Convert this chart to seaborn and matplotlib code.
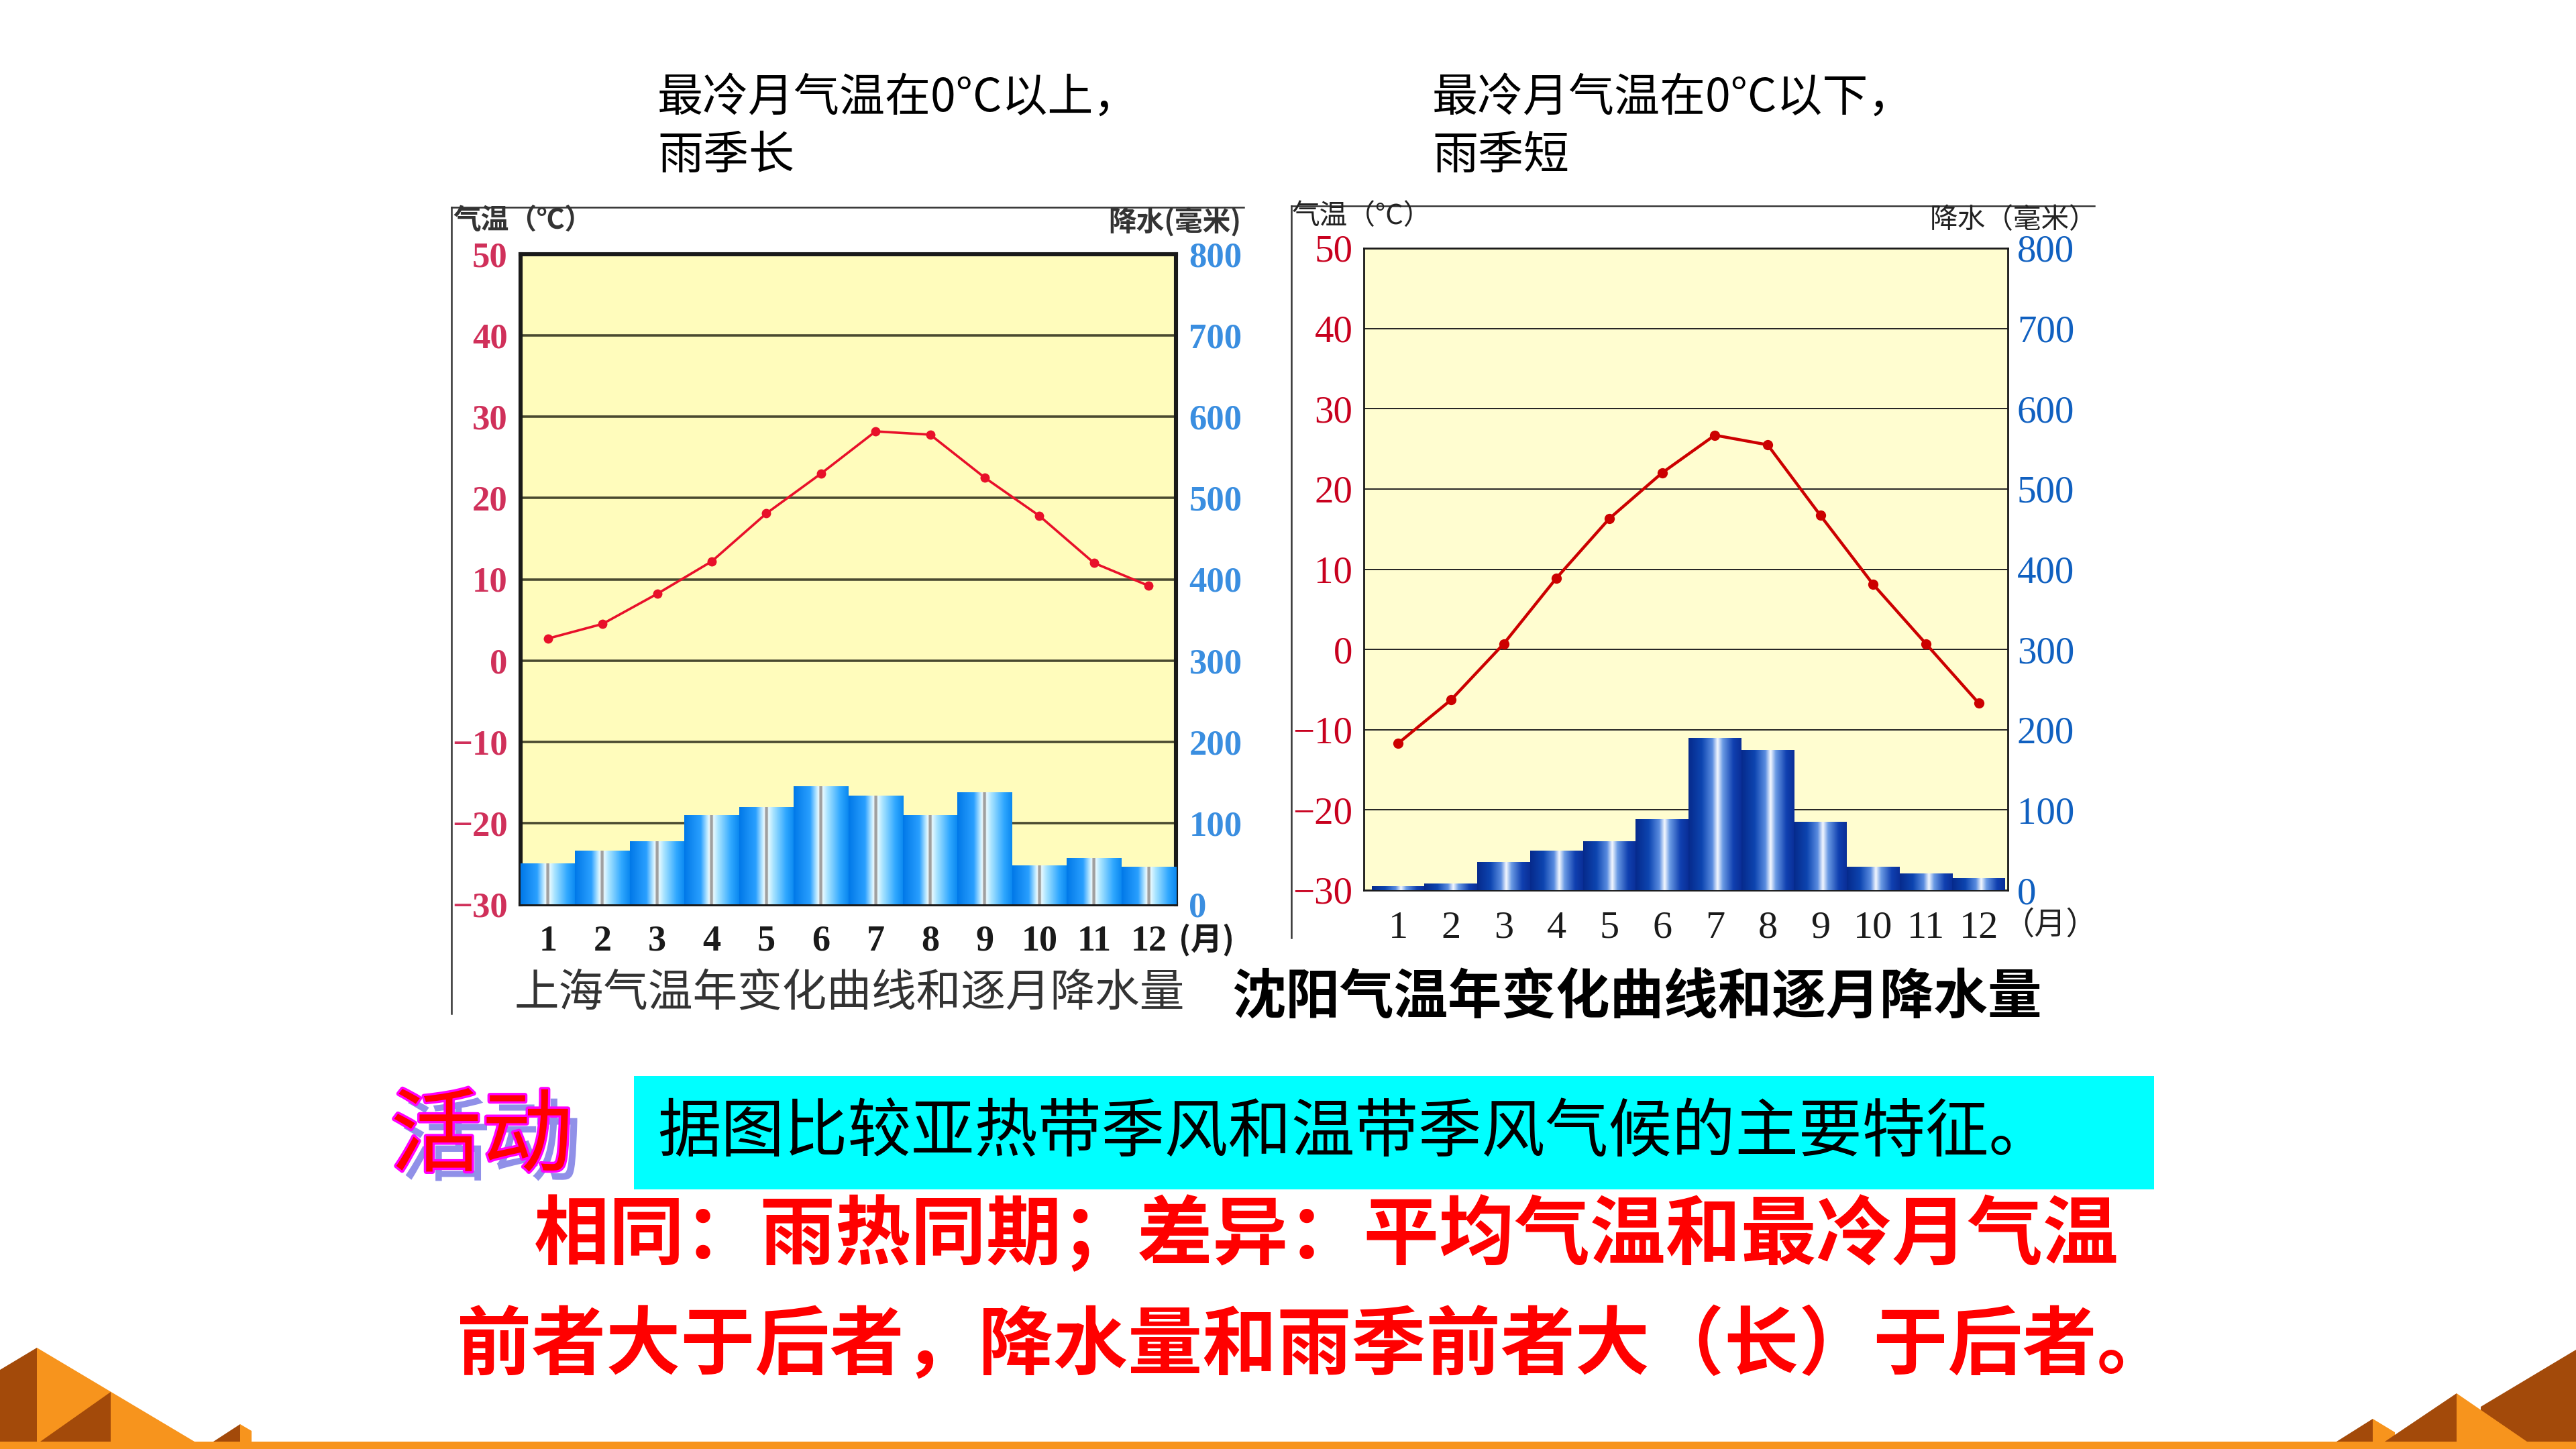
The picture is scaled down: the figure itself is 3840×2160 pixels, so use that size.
import numpy as np
import pandas as pd
import seaborn as sns
import matplotlib
matplotlib.use('Agg')
from matplotlib import pyplot as plt
from matplotlib.colors import LinearSegmentedColormap
from matplotlib.patches import Polygon, Rectangle
import matplotlib.patheffects as pe

# data
months = list(range(1, 13))
month_labels = [str(m) for m in months]
sh_temp = [2.7, 4.5, 8.2, 12.2, 18.1, 23.0, 28.2, 27.8, 22.5, 17.8, 12.0, 9.2]
sh_rain = [50, 66, 78, 110, 120, 145, 134, 110, 138, 48, 57, 46]
sy_temp = [-11.7, -6.3, 0.7, 8.9, 16.3, 22.0, 26.7, 25.5, 16.7, 8.1, 0.7, -6.7]
sy_rain = [5, 8, 35, 49, 61, 89, 190, 175, 85, 29, 21, 15]
temp_ticks = [-30, -20, -10, 0, 10, 20, 30, 40, 50]
temp_labels = ['\u221230', '\u221220', '\u221210', '0', '10', '20', '30', '40', '50']
rain_ticks = [0, 100, 200, 300, 400, 500, 600, 700, 800]
rain_labels = [str(v) for v in rain_ticks]

W, H = 3840, 2160
plt.rcParams['font.family'] = ['Noto Sans CJK SC', 'DejaVu Sans']
fig = plt.figure(figsize=(19.2, 10.8), dpi=200)
fig.patch.set_facecolor('white')

# pixel-space layer for text and decorations
bg = fig.add_axes([0, 0, 1, 1])
bg.set_xlim(0, W)
bg.set_ylim(H, 0)
bg.axis('off')
bg.set_zorder(-1)


def rect(x0, y0, x1, y1):
    return [x0 / W, 1 - y1 / H, (x1 - x0) / W, (y1 - y0) / H]


def draw_chart(box, temps, rains, xlim, face, grad_colors, line_color, lw, ms,
               spine_w, grid_c, grid_w, tcol, rcol, bold, pad_l, pad_r, fs):
    ax = fig.add_axes(rect(*box))
    ax.set_zorder(1)
    df = pd.DataFrame({'month': months, 'temp': temps, 'rain': rains})
    sns.barplot(data=df, x='month', y='rain', ax=ax, native_scale=True, width=1,
                color='#1060d0', saturation=1, linewidth=0, zorder=2)
    cmap = LinearSegmentedColormap.from_list('bar', grad_colors)
    grad = np.linspace(0, 1, 256).reshape(1, -1)
    for p in ax.patches:
        x0, y0 = p.get_xy()
        im = ax.imshow(grad, extent=[x0, x0 + p.get_width(), y0, y0 + p.get_height()],
                       aspect='auto', cmap=cmap, zorder=3, interpolation='bilinear')
        im.set_clip_path(p)
    ax.set_facecolor(face)
    ax.set_xlim(*xlim)
    ax.set_ylim(0, 800)
    ax.set_axisbelow(True)
    ax.yaxis.grid(True, color=grid_c, lw=grid_w)
    ax.xaxis.grid(False)
    ax.set_xlabel('')
    ax.set_ylabel('')
    for s in ax.spines.values():
        s.set_linewidth(spine_w)
        s.set_color('#1a1a1a')
    weight = 'bold' if bold else 'normal'

    ax2 = ax.twinx()
    ax2.set_zorder(2)
    sns.lineplot(data=df, x='month', y='temp', ax=ax2, color=line_color, lw=lw,
                 marker='o', markersize=ms, markeredgewidth=0)
    ax2.set_ylim(-30, 50)
    ax2.set_xlim(*xlim)
    ax2.set_xlabel('')
    ax2.set_ylabel('')
    for s in ax2.spines.values():
        s.set_visible(False)
    ax.yaxis.tick_right()
    ax2.yaxis.tick_left()
    ax.set_yticks(rain_ticks, labels=rain_labels, fontfamily='Liberation Serif',
                  fontweight=weight, color=rcol, fontsize=fs)
    ax2.set_yticks(temp_ticks, labels=temp_labels, fontfamily='Liberation Serif',
                   fontweight=weight, color=tcol, fontsize=fs)
    ax.set_xticks(months, labels=month_labels, fontfamily='Liberation Serif',
                  fontweight=weight, color='#1a1a1a', fontsize=fs + 0.5)
    ax.tick_params(axis='y', length=0, pad=pad_r)
    ax.tick_params(axis='x', length=0, pad=11)
    ax2.tick_params(axis='y', length=0, pad=pad_l)
    return ax, ax2


# Shanghai
draw_chart((776, 379, 1753, 1348), sh_temp, sh_rain, (0.5, 12.5), '#fffcbc',
           [(0, '#0078e8'), (0.3, '#2aa0ff'), (0.42, '#bfeaff'), (0.46, '#f0fbff'),
            (0.475, '#a0a0a0'), (0.515, '#a0a0a0'), (0.53, '#e8faff'),
            (0.62, '#a8e4ff'), (0.85, '#30a8ff'), (1, '#0a88f0')],
           '#e8102a', 1.3, 5, 2.2, '#4a4a30', 1.3, '#d0305a', '#3a8ee0', True, 7, 7, 19)

# Shenyang
draw_chart((2033, 370, 2993, 1327), sy_temp, sy_rain, (0.35, 12.55), '#fffdd0',
           [(0, '#062a8c'), (0.25, '#0d45b0'), (0.45, '#5a8ce0'), (0.55, '#f4f8ff'),
            (0.65, '#6a9ae4'), (0.85, '#1040b0'), (1, '#0a2f98')],
           '#cc0000', 1.6, 5.5, 1.0, '#222222', 0.7, '#c8001e', '#1060c0', False, 6, 5, 20.5)

# chart frames
bg.plot([673, 673], [309, 1511], color='#333333', lw=0.9)
bg.plot([673, 1854], [309, 309], color='#333333', lw=0.9)
bg.plot([1925, 1925], [307, 1398], color='#333333', lw=0.9)
bg.plot([1925, 3122], [307, 307], color='#333333', lw=0.9)

# axis titles
bg.text(676, 330, '气温（℃）', fontsize=15, fontweight='bold', color='#333333', va='center')
bg.text(1850, 330, '降水(毫米)', fontsize=15, fontweight='bold', color='#333333', va='center', ha='right')
bg.text(1757, 1401, '(月)', fontsize=17, fontweight='bold', color='#1a1a1a', va='center')
bg.text(1926, 323, '气温（°C）', fontsize=15, color='#222222', va='center')
bg.text(3126, 328, '降水（毫米）', fontsize=15, color='#222222', va='center', ha='right')
bg.text(2985, 1379, '（月）', fontsize=17, color='#222222', va='center')

# captions
bg.text(1266, 1482, '上海气温年变化曲线和逐月降水量', fontsize=24, color='#333333', ha='center', va='center')
bg.text(2440, 1487, '沈阳气温年变化曲线和逐月降水量', fontsize=29, fontweight='bold', color='black',
        ha='center', va='center')

# notes above charts
bg.text(980, 147, '最冷月气温在0°C以上，', fontsize=24.5, color='black', va='center')
bg.text(980, 233, '雨季长', fontsize=24.5, color='black', va='center')
bg.text(2135, 147, '最冷月气温在0°C以下，', fontsize=24.5, color='black', va='center')
bg.text(2135, 233, '雨季短', fontsize=24.5, color='black', va='center')

# activity box
bg.add_patch(Rectangle((945, 1604), 2266, 169, facecolor='#00ffff', edgecolor='none'))
bg.text(980, 1690, '据图比较亚热带季风和温带季风气候的主要特征。', fontsize=34, color='black', va='center')
bg.text(718, 1697, '活动', fontsize=49, color='#ff0000', ha='center', va='center',
        path_effects=[pe.SimplePatchShadow(offset=(5, -5), shadow_rgbFace='#9090e8', alpha=1),
                      pe.Stroke(linewidth=2.5, foreground='#ff00ff'), pe.Normal()])
bg.text(796, 1842, '相同：雨热同期；差异：平均气温和最冷月气温', fontsize=40.5, fontweight='bold',
        color='#ff0000', va='center')
bg.text(681, 2008, '前者大于后者，降水量和雨季前者大（长）于后者。', fontsize=40, fontweight='bold',
        color='#ff0000', va='center')

# pyramids along the bottom
orange, brown = '#f7941d', '#a34a0a'
shapes = [
    ([(0, 2042), (55, 2009), (55, 2149), (0, 2149)], brown),
    ([(55, 2009), (290, 2149), (55, 2149)], orange),
    ([(60, 2149), (165, 2075), (165, 2149)], brown),
    ([(318, 2149), (358, 2123), (358, 2149)], brown),
    ([(358, 2123), (375, 2133), (375, 2149), (358, 2149)], orange),
    ([(3483, 2149), (3537, 2115), (3537, 2149)], brown),
    ([(3537, 2115), (3570, 2135), (3570, 2149), (3537, 2149)], orange),
    ([(3698, 2097), (3840, 2012), (3840, 2149), (3698, 2149)], brown),
    ([(3555, 2149), (3662, 2077), (3662, 2149)], brown),
    ([(3662, 2077), (3767, 2149), (3662, 2149)], orange),
]
for pts, c in shapes:
    bg.add_patch(Polygon(pts, closed=True, facecolor=c, edgecolor='none'))
bg.add_patch(Rectangle((0, 2149), W, 11, facecolor=orange, edgecolor='none'))

fig.savefig('out.png', dpi=200, facecolor='white')
